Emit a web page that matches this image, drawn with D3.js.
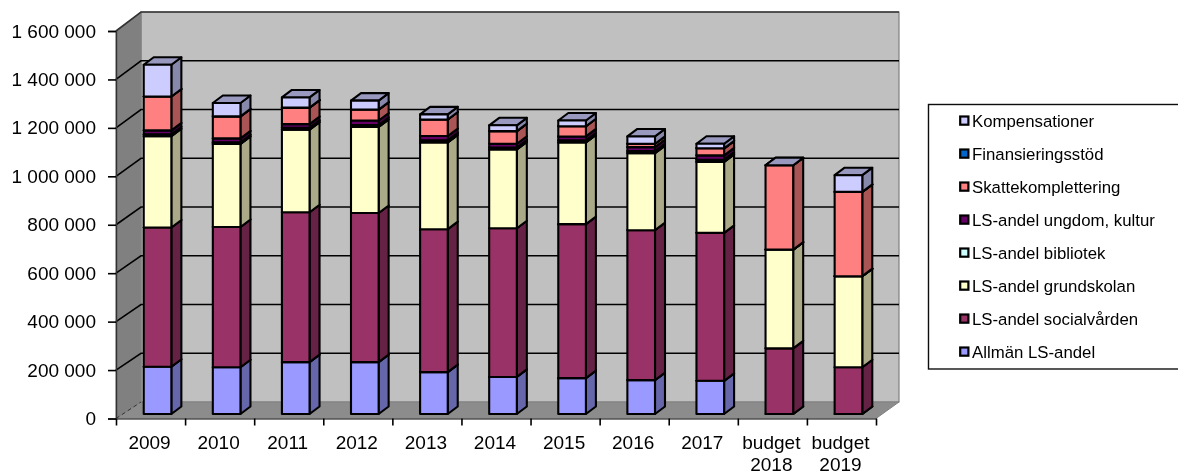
<!DOCTYPE html>
<html>
<head>
<meta charset="utf-8">
<script src="https://cdn.jsdelivr.net/npm/d3@7"></script>
<style>
html, body { margin: 0; padding: 0; background: #fff; }
svg { display: block; font-family: "Liberation Sans", Arial, sans-serif; }
</style>
</head>
<body>
<svg id="chart" width="1178" height="475"></svg>
<script>
const years = ["2009","2010","2011","2012","2013","2014","2015","2016","2017","budget 2018","budget 2019"];

const allman     = [195000,193000,214000,214000,173000,153000,148000,140000,137000,0,0];
const social     = [575000,579000,619000,616000,590000,614000,636000,619000,611000,271000,193000];
const grund      = [377000,343000,341000,355000,358000,325000,337000,318000,293000,408000,376000];
const bibliotek  = [8000,7000,8000,8000,9000,8000,9000,9000,9000,0,0];
const ungdom     = [16000,16000,15000,19000,18000,16000,16000,16000,18000,0,0];
const skatte     = [140000,91000,68000,45000,68000,52000,42000,14000,29000,348000,348000];
const finans     = [0,0,0,0,0,0,0,0,0,0,0];
const komp       = [131000,55000,42000,37000,21000,24000,24000,30000,19000,0,69000];

const seriesNames = ["Allmän LS-andel","LS-andel socialvården","LS-andel grundskolan","LS-andel bibliotek","LS-andel ungdom, kultur","Skattekomplettering","Finansieringsstöd","Kompensationer"];
const seriesColors = ["#9999ff","#993366","#ffffcc","#ccffff","#660066","#ff8080","#0066cc","#ccccff"];
const yTicks = [0,200000,400000,600000,800000,1000000,1200000,1400000,1600000];

const rows = years.map(function(y,i){
	return {year:y, a:allman[i], b:social[i], c:grund[i], d:bibliotek[i], e:ungdom[i], f:skatte[i], g:finans[i], h:komp[i]};
});
const keys = ["a","b","c","d","e","f","g","h"];
const stacked = d3.stack().keys(keys)(rows);

const svg = d3.select("#chart");
const fmt = d3.formatLocale({decimal:",",thousands:"\u00a0",grouping:[3],currency:["",""]}).format(",");

// front edge of the box and the back wall have their own y scale
const yFront = d3.scaleLinear().domain([0,1600000]).range([418.5,31]);
const yBack = d3.scaleLinear().domain([0,1600000]).range([402,12]);
const x = d3.scaleBand().domain(years).range([116,876]).paddingInner(0.6).paddingOuter(0.3);

const left = 116, right = 876, backLeft = 141, backRight = 899;
const barShiftX = 7, barShiftY = -4.5, depthX = 10, depthY = -7.5;

const blur = svg.append("defs").append("filter").attr("id","soft")
	.attr("x","-2%").attr("y","-2%").attr("width","104%").attr("height","104%");
blur.append("feGaussianBlur").attr("stdDeviation",0.45);

const plot = svg.append("g").attr("filter","url(#soft)");

function poly(p){ return p.map(function(q){ return q.join(","); }).join(" "); }

// walls and floor
plot.append("polygon")
	.attr("points",poly([[backLeft,yBack(1600000)],[backRight,yBack(1600000)],[backRight,yBack(0)],[backLeft,yBack(0)]]))
	.attr("fill","#c0c0c0").attr("stroke","#808080").attr("stroke-width",1.2);
plot.append("polygon")
	.attr("points",poly([[left,yFront(1600000)],[backLeft,yBack(1600000)],[backLeft,yBack(0)],[left,yFront(0)]]))
	.attr("fill","#808080").attr("stroke","#808080").attr("stroke-width",1);
plot.append("polygon")
	.attr("points",poly([[left,yFront(0)],[backLeft,yBack(0)],[backRight,yBack(0)],[right,yFront(0)]]))
	.attr("fill","#8c8c8c").attr("stroke","#808080").attr("stroke-width",1);

// gridlines
const gridTicks = yTicks.filter(function(t){ return t > 0 && t < 1600000; });
plot.append("g").selectAll("path").data(gridTicks).join("path")
	.attr("d",function(t){ return "M"+left+","+yFront(t)+"L"+backLeft+","+yBack(t)+"L"+backRight+","+yBack(t); })
	.attr("fill","none").attr("stroke","#000").attr("stroke-width",1.6);
plot.append("path")
	.attr("d","M"+left+","+yFront(1600000)+"L"+backLeft+","+yBack(1600000)+"L"+backRight+","+yBack(1600000))
	.attr("fill","none").attr("stroke","#333").attr("stroke-width",1.6);
plot.append("path")
	.attr("d","M"+left+","+yFront(0)+"L"+backLeft+","+yBack(0))
	.attr("fill","none").attr("stroke","#333").attr("stroke-width",1).attr("stroke-dasharray","4,3");

// bars, segment by segment from the bottom up
function shade(c,k){
	const r = d3.rgb(c);
	return d3.rgb(r.r*k,r.g*k,r.b*k).formatHex();
}
const bars = plot.append("g");
years.forEach(function(year,i){
	const x0 = x(year)+barShiftX, x1 = x0+x.bandwidth();
	stacked.forEach(function(layer,s){
		const yb = yFront(layer[i][0])+barShiftY, yt = yFront(layer[i][1])+barShiftY;
		const g = bars.append("g").attr("stroke","#000").attr("stroke-width",2.1).attr("stroke-linejoin","round");
		g.append("polygon")
			.attr("points",poly([[x1,yb],[x1+depthX,yb+depthY],[x1+depthX,yt+depthY],[x1,yt]]))
			.attr("fill",shade(seriesColors[s],0.667));
		g.append("polygon")
			.attr("points",poly([[x0,yt],[x0+depthX,yt+depthY],[x1+depthX,yt+depthY],[x1,yt]]))
			.attr("fill",shade(seriesColors[s],0.75));
		g.append("rect")
			.attr("x",x0).attr("y",yt).attr("width",x1-x0).attr("height",yb-yt)
			.attr("fill",seriesColors[s]);
	});
});

// axes
const yAxis = plot.append("g").attr("transform","translate("+left+",0)")
	.call(d3.axisLeft(yFront).tickValues(yTicks).tickFormat(fmt).tickSize(8).tickPadding(12));
yAxis.select(".domain").attr("stroke","#333").attr("stroke-width",1.4);
yAxis.selectAll(".tick line").attr("stroke","#000").attr("stroke-width",1.6);
yAxis.selectAll("text").attr("font-size",19).attr("font-family","Liberation Sans").attr("fill","#000");

const xLine = d3.scaleLinear().domain([0,years.length]).range([left,right]);
const xAxis = plot.append("g").attr("transform","translate(0,"+yFront(0)+")")
	.call(d3.axisBottom(xLine).tickValues(d3.range(0,years.length+1)).tickFormat("").tickSize(7).tickSizeOuter(0));
xAxis.select(".domain").attr("stroke","#555").attr("stroke-width",1.4);
xAxis.selectAll(".tick line").attr("stroke","#000").attr("stroke-width",1.6);

const labels = plot.append("g").attr("text-anchor","middle").attr("font-size",19).attr("fill","#000");
years.forEach(function(year,i){
	const cx = xLine(i+0.5)-1;
	year.split(" ").forEach(function(part,j){
		labels.append("text").attr("x",cx).attr("y",449+j*21.5).text(part);
	});
});

// legend, top entry is the last series
const legend = plot.append("g");
legend.append("rect").attr("x",928.5).attr("y",104.5).attr("width",260).attr("height",264.5)
	.attr("fill","#fff").attr("stroke","#111").attr("stroke-width",1.4);
const legendY = d3.scalePoint().domain(d3.range(8)).range([121,352]);
seriesNames.slice().reverse().forEach(function(name,i){
	const c = seriesColors[seriesColors.length-1-i];
	legend.append("rect").attr("x",960.2).attr("y",legendY(i)-4.5).attr("width",8.2).attr("height",8.2)
		.attr("fill",c).attr("stroke","#000").attr("stroke-width",2.2);
	legend.append("text").attr("x",972).attr("y",legendY(i)+6).attr("font-size",16.8).attr("fill","#000").text(name);
});
</script>
</body>
</html>
